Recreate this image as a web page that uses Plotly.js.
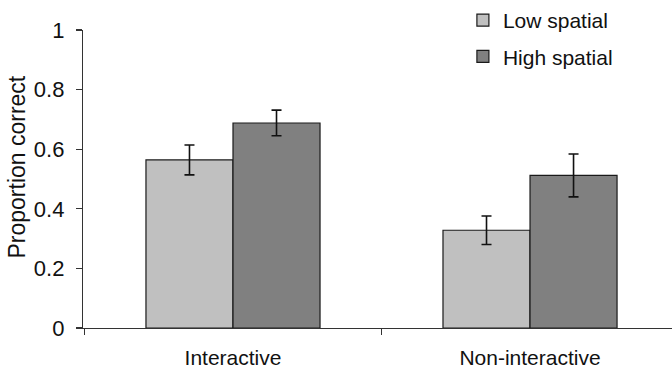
<!DOCTYPE html>
<html>
<head>
<meta charset="utf-8">
<script src="https://cdn.plot.ly/plotly-3.0.1.min.js"></script>
<style>html,body{margin:0;padding:0;background:#fff;}#chart{width:672px;height:372px;}</style>
</head>
<body>
<div id="chart"></div>
<script>
var categories = ["Interactive", "Non-interactive"];
var seriesNames = ["Low spatial", "High spatial"];
var lowValues = [0.564, 0.328];
var lowErrors = [0.050, 0.048];
var highValues = [0.688, 0.512];
var highErrors = [0.043, 0.072];
var yTickValues = [0, 0.2, 0.4, 0.6, 0.8, 1];
var yTickLabels = ["0", "0.2", "0.4", "0.6", "0.8", "1"];
var yTitle = "Proportion correct";

var fontFamily = "Liberation Sans, Arial, sans-serif";

function barTrace(name, vals, errs, color, group) {
  return {
    type: "bar",
    name: name,
    x: categories,
    y: vals,
    legendgroup: group,
    marker: {color: color, line: {color: "#1a1a1a", width: 1.2}},
    error_y: {type: "data", array: errs, visible: true, color: "#111", thickness: 1.6, width: 5}
  };
}

var data = [
  barTrace(seriesNames[0], lowValues, lowErrors, "#c0c0c0", "g1"),
  barTrace(seriesNames[1], highValues, highErrors, "#808080", "g2")
];

var layout = {
  width: 672,
  height: 372,
  margin: {l: 83, r: 0, t: 29, b: 44},
  paper_bgcolor: "#fff",
  plot_bgcolor: "#fff",
  font: {family: fontFamily, size: 21, color: "#111"},
  barmode: "group",
  bargap: 0.414,
  bargroupgap: 0,
  showlegend: true,
  legend: {
    x: 0.645, y: 1.1, xanchor: "left", yanchor: "top",
    bgcolor: "rgba(0,0,0,0)",
    font: {family: fontFamily, size: 21, color: "#111"},
    traceorder: "grouped",
    tracegroupgap: 6,
    itemwidth: 30
  },
  xaxis: {
    type: "category",
    range: [-0.505, 1.478],
    showline: true, linecolor: "#333", linewidth: 1.2,
    ticks: "outside", tickson: "boundaries", ticklen: 6, tickcolor: "#333", tickwidth: 1.2,
    showgrid: false, zeroline: false,
    ticklabelstandoff: 11,
    tickfont: {family: fontFamily, size: 21, color: "#111"}
  },
  yaxis: {
    range: [0, 1],
    tickvals: yTickValues,
    ticktext: yTickLabels,
    showline: true, linecolor: "#333", linewidth: 1.2,
    ticks: "outside", ticklen: 6, tickcolor: "#333", tickwidth: 1.2,
    showgrid: false, zeroline: false,
    ticklabelstandoff: 7,
    tickfont: {family: fontFamily, size: 22, color: "#111"}
  },
  annotations: [{
    text: yTitle,
    xref: "paper", yref: "paper",
    x: -83 / 589 + 17 / 589, y: (328 - 167) / 299,
    xanchor: "center", yanchor: "middle",
    textangle: -90, showarrow: false,
    font: {family: fontFamily, size: 23, color: "#111"}
  }]
};

Plotly.newPlot("chart", data, layout, {displayModeBar: false, staticPlot: true});
</script>
</body>
</html>
